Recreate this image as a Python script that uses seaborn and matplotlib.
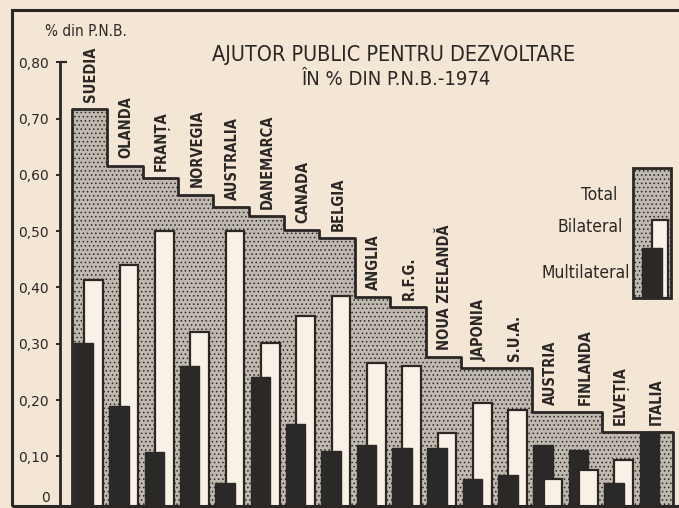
import numpy as np
import pandas as pd
import matplotlib
matplotlib.use("Agg")
import matplotlib.pyplot as plt
import seaborn as sns
from matplotlib.patches import Rectangle

# ---------------- data ----------------
countries = ["SUEDIA", "OLANDA", "FRANȚA", "NORVEGIA", "AUSTRALIA", "DANEMARCA",
             "CANADA", "BELGIA", "ANGLIA", "R.F.G.", "NOUA ZEELANDĂ", "JAPONIA",
             "S.U.A.", "AUSTRIA", "FINLANDA", "ELVEȚIA", "ITALIA"]
total = [0.717, 0.616, 0.594, 0.565, 0.542, 0.526, 0.502, 0.488, 0.383, 0.365,
         0.276, 0.257, 0.257, 0.178, 0.178, 0.143, 0.143]
bilateral = [0.414, 0.439, 0.500, 0.320, 0.500, 0.302, 0.350, 0.385, 0.266, 0.260,
             0.142, 0.195, 0.183, 0.060, 0.075, 0.094, 0.0]
multilateral = [0.302, 0.190, 0.108, 0.260, 0.053, 0.240, 0.158, 0.110, 0.120, 0.114,
                0.115, 0.059, 0.067, 0.120, 0.112, 0.053, 0.143]
ytick_values = [0.1, 0.2, 0.3, 0.4, 0.5, 0.6, 0.7, 0.8]
ytick_labels = ["0,10", "0,20", "0,30", "0,40", "0,50", "0,60", "0,70", "0,80"]
title_lines = ["AJUTOR PUBLIC PENTRU DEZVOLTARE", "ÎN % DIN P.N.B.-1974"]
unit_label = "% din P.N.B."
legend_labels = ["Total", "Bilateral", "Multilateral"]

# ---------------- style ----------------
BG = "#f3e6d5"
GRAY = "#c0b9b0"
DARK = "#2b2927"
WHITE = "#faf1e6"
INK = "#2a2725"

sns.set_theme(style="white")
plt.rcParams["font.family"] = ["DejaVu Sans"]
plt.rcParams["hatch.color"] = "#8f8982"
plt.rcParams["hatch.linewidth"] = 0.6

COND = dict(family=["DejaVu Sans"], stretch="condensed")

W, H = 679, 508
fig = plt.figure(figsize=(W / 100, H / 100), dpi=100, facecolor=BG)

def fx(px):
    return px / W

def fy(py):
    return 1 - py / H

ax = fig.add_axes([fx(60), fy(506), fx(W) - fx(60), fy(10) - fy(506)])
ax.set_facecolor("none")

idx = np.arange(len(countries))
df = pd.DataFrame({"country": countries, "pos": idx, "total": total,
                   "bilateral": bilateral, "multilateral": multilateral})

# stepped total area
sns.histplot(data=df, x="pos", weights="total", discrete=True,
             element="step", fill=True, color=GRAY, alpha=1, edgecolor=INK,
             linewidth=2.0, hatch="....", ax=ax, zorder=1)

# bilateral (white) and multilateral (dark) bars
sns.barplot(x=df["pos"] + 0.11, y=df["bilateral"], native_scale=True, width=0.53,
            color=WHITE, saturation=1, edgecolor=INK, linewidth=1.6,
            errorbar=None, ax=ax)
white_bars = list(ax.containers[-1])
sns.barplot(x=df["pos"] - 0.17, y=df["multilateral"], native_scale=True, width=0.55,
            color=DARK, saturation=1, edgecolor=DARK, linewidth=1.0,
            errorbar=None, ax=ax)
dark_bars = list(ax.containers[-1])
for wb, db, b, m in zip(white_bars, dark_bars, bilateral, multilateral):
    if b <= m:
        wb.set_zorder(4); db.set_zorder(3)
    else:
        wb.set_zorder(3); db.set_zorder(4)

# country labels
for i, (c, t) in enumerate(zip(countries, total)):
    ax.text(i + 0.03, t + 0.013, c, rotation=90, ha="center", va="bottom",
            fontsize=10.5, fontweight="bold", color=INK, clip_on=False, **COND)

scale = 563.0
zero_px = 512.6
ax.set_xlim(-0.5 - 12 / 35.35, -0.5 + (W - 72) / 35.35)
ax.set_ylim((zero_px - 506) / scale, (zero_px - 506) / scale + 496 / scale)

ax.set_xticks([])
ax.set_xlabel("")
ax.set_ylabel("")
ax.set_yticks(ytick_values)
ax.set_yticklabels(ytick_labels)
ax.tick_params(axis="y", direction="out", length=3, width=1.4, color=INK,
               pad=5, labelsize=10, labelcolor=INK, left=True)
for s in ["top", "right"]:
    ax.spines[s].set_visible(False)
ax.spines["left"].set_bounds((zero_px - 506) / scale, 0.80)
ax.spines["left"].set_linewidth(2.0)
ax.spines["left"].set_color(INK)
ax.spines["bottom"].set_linewidth(2.0)
ax.spines["bottom"].set_color(INK)
x0 = ax.get_xlim()[0]
ax.plot([x0, x0 + 7 / 35.35], [0.8, 0.8], color=INK, lw=1.6, clip_on=False,
        solid_capstyle="butt")
fig.text(fx(50), fy(498), "0", ha="right", va="center", fontsize=10, color=INK)

# outer frame
frame = Rectangle((fx(12), fy(506)), fx(W + 40) - fx(12), fy(10) - fy(506),
                  transform=fig.transFigure, fill=False, edgecolor=INK, lw=2.2)
fig.add_artist(frame)

# titles
fig.text(fx(394), fy(55), title_lines[0], ha="center", va="center", fontsize=15.5,
         color=INK, **COND)
fig.text(fx(396), fy(80), title_lines[1], ha="center", va="center", fontsize=14.5,
         color=INK, **COND)
fig.text(fx(45), fy(31), unit_label, ha="left", va="center", fontsize=11,
         color=INK, **COND)

# legend glyph
lax = fig.add_axes([fx(633), fy(298), fx(672) - fx(633), fy(168) - fy(298)])
lax.set_xlim(633, 672)
lax.set_ylim(298, 168)
lax.axis("off")
lax.add_patch(Rectangle((633, 168), 38, 130, facecolor=GRAY, edgecolor=INK, lw=2.0,
                        hatch="....", clip_on=False))
lax.add_patch(Rectangle((652, 220), 16, 78, facecolor=WHITE, edgecolor=INK, lw=1.6,
                        clip_on=False))
lax.add_patch(Rectangle((642, 248), 20, 50, facecolor=DARK, edgecolor=DARK, lw=1.0,
                        clip_on=False))
fig.text(fx(617), fy(195), legend_labels[0], ha="right", va="center", fontsize=12.5,
         color=INK, **COND)
fig.text(fx(623), fy(227), legend_labels[1], ha="right", va="center", fontsize=12.5,
         color=INK, **COND)
fig.text(fx(630), fy(273), legend_labels[2], ha="right", va="center", fontsize=12.5,
         color=INK, **COND)

fig.savefig("out.png", dpi=100, facecolor=BG)
